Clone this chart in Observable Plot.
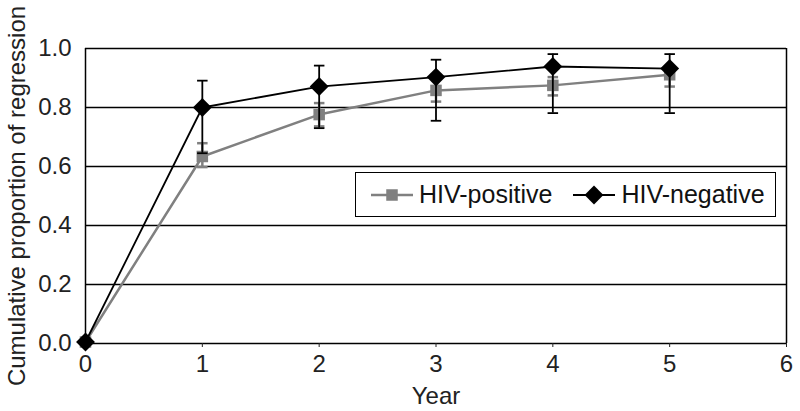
<!DOCTYPE html>
<html>
<head>
<meta charset="utf-8">
<script src="https://cdn.jsdelivr.net/npm/d3@7"></script>
<script src="https://cdn.jsdelivr.net/npm/@observablehq/plot@0.6"></script>
<style>
  body { margin: 0; background: #fff; }
  #wrap { position: relative; width: 800px; height: 411px; font-family: "Liberation Sans", Arial, sans-serif; }
  #legend { position: absolute; left: 355px; top: 172px; width: 419px; height: 43px; border: 1.5px solid #000; background: #fff; display: flex; align-items: center; font-size: 25px; color: #111; }
  #legend .item { display: flex; align-items: center; }
  #legend svg { display: block; }
</style>
</head>
<body>
<div id="wrap"></div>
<script>
const years = [0, 1, 2, 3, 4, 5];
const posMean = [0.005, 0.634, 0.776, 0.858, 0.875, 0.911];
const posLow  = [null, 0.598, 0.736, 0.820, 0.841, 0.871];
const posHigh = [null, 0.679, 0.815, 0.897, 0.903, 0.930];
const negMean = [0.005, 0.800, 0.871, 0.903, 0.939, 0.932];
const negLow  = [null, 0.645, 0.730, 0.755, 0.781, 0.781];
const negHigh = [null, 0.891, 0.942, 0.962, 0.981, 0.981];
const xTicks = [0, 1, 2, 3, 4, 5, 6];
const yTicks = [0, 0.2, 0.4, 0.6, 0.8, 1.0];
const seriesNames = ["HIV-positive", "HIV-negative"];
const seriesColors = ["#808080", "#000000"];

const pos = years.map((x, i) => ({x, y: posMean[i], lo: posLow[i], hi: posHigh[i]}));
const neg = years.map((x, i) => ({x, y: negMean[i], lo: negLow[i], hi: negHigh[i]}));
const posErr = pos.filter(d => d.lo != null);
const negErr = neg.filter(d => d.lo != null);
const capW = 0.045;

function errMarks(data, color, sw) {
  return [
    Plot.ruleX(data, {x: "x", y1: "lo", y2: "hi", stroke: color, strokeWidth: sw}),
    Plot.link(data, {x1: d => d.x - capW, x2: d => d.x + capW, y1: "hi", y2: "hi", stroke: color, strokeWidth: sw}),
    Plot.link(data, {x1: d => d.x - capW, x2: d => d.x + capW, y1: "lo", y2: "lo", stroke: color, strokeWidth: sw})
  ];
}

const chart = Plot.plot({
  width: 800,
  height: 411,
  marginLeft: 85,
  marginRight: 14,
  marginTop: 48,
  marginBottom: 68,
  style: {fontFamily: "'Liberation Sans', Arial, sans-serif", fontSize: "24px", color: "#222", background: "#fff"},
  x: {domain: [0, 6]},
  y: {domain: [0, 1]},
  marks: [
    Plot.ruleY(yTicks, {stroke: "#000", strokeWidth: 1.5}),
    Plot.ruleX([0, 6], {stroke: "#000", strokeWidth: 1.5}),
    Plot.axisX({ticks: xTicks, tickFormat: d => String(d), tickSize: 4, tickPadding: 7, label: "Year", labelAnchor: "center", labelArrow: "none", labelOffset: 60, fontSize: 24}),
    Plot.axisY({ticks: yTicks, tickFormat: d3.format(".1f"), tickSize: 0, tickPadding: 14, label: "Cumulative proportion of regression", labelAnchor: "center", labelArrow: "none", labelOffset: 78, fontSize: 24}),
    Plot.line(pos, {x: "x", y: "y", stroke: seriesColors[0], strokeWidth: 2.5}),
    ...errMarks(posErr, seriesColors[0], 2.5),
    Plot.dot(pos, {x: "x", y: "y", symbol: "square", r: 6.5, fill: seriesColors[0], stroke: "none"}),
    Plot.line(neg, {x: "x", y: "y", stroke: seriesColors[1], strokeWidth: 1.8}),
    ...errMarks(negErr, seriesColors[1], 1.8),
    Plot.dot(neg, {x: "x", y: "y", symbol: "diamond2", r: 8.5, fill: seriesColors[1], stroke: "none"})
  ]
});

const wrap = document.getElementById("wrap");
wrap.appendChild(chart);

const legend = document.createElement("div");
legend.id = "legend";
const symR = [6.5, 8.5];
const lw = [2.5, 1.8];
seriesNames.forEach((name, i) => {
  const item = document.createElement("div");
  item.className = "item";
  item.style.marginLeft = i === 0 ? "14px" : "20px";
  const path = d3.symbol(i === 0 ? d3.symbolSquare : d3.symbolDiamond2, Math.PI * symR[i] * symR[i])();
  item.innerHTML = `<svg width="44" height="24"><line x1="1" x2="43" y1="12" y2="12" stroke="${seriesColors[i]}" stroke-width="${lw[i]}"/><path d="${path}" transform="translate(22,12)" fill="${seriesColors[i]}"/></svg><span style="margin-left:5px">${name}</span>`;
  legend.appendChild(item);
});
wrap.appendChild(legend);
</script>
</body>
</html>
